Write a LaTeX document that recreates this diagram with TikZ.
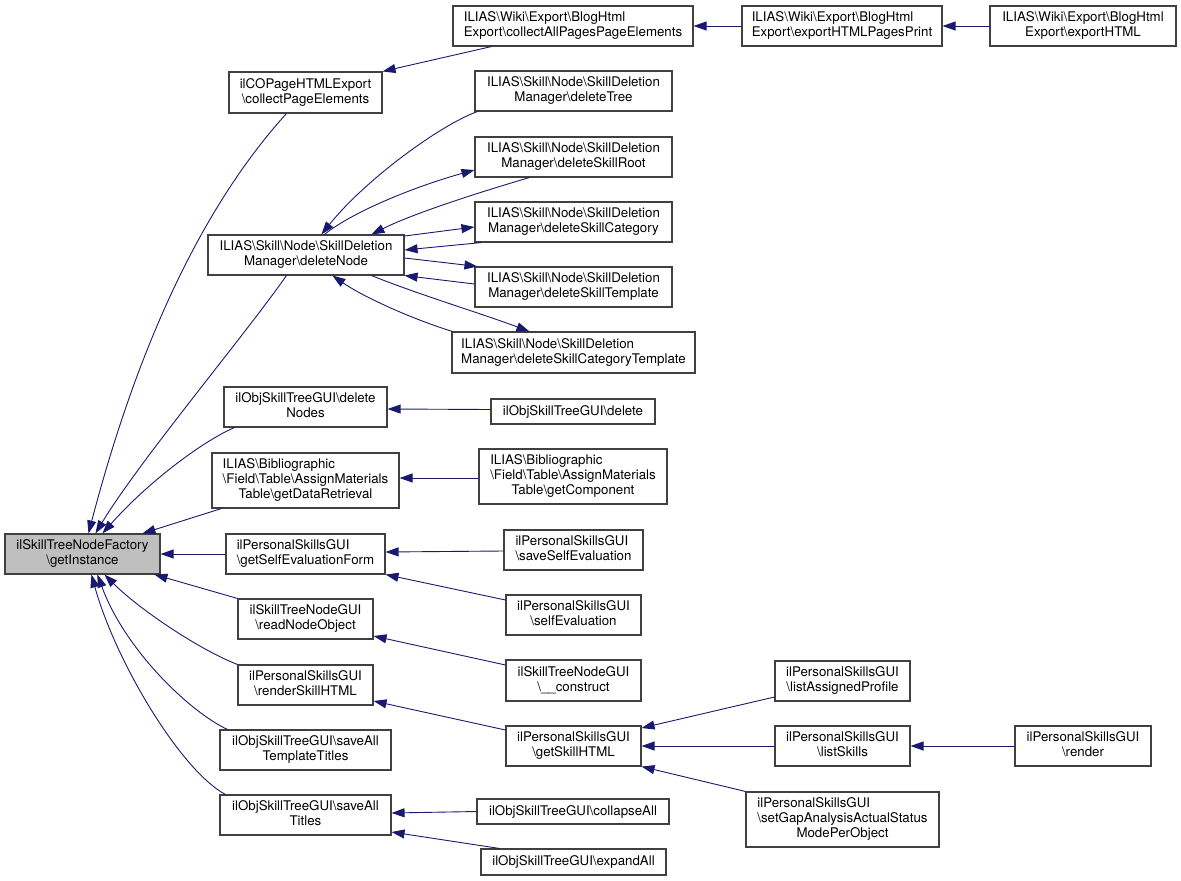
\documentclass[tikz,border=0pt]{standalone}
\usepackage{fontspec}
\setmainfont{TeX Gyre Heros}
\usetikzlibrary{arrows.meta}
\definecolor{navy}{RGB}{25,25,112}
\definecolor{boxline}{RGB}{64,64,64}
\definecolor{rootfill}{RGB}{191,191,191}
\newcommand{\bs}{\textbackslash}
\newcommand{\lineii}[2]{\begin{tabular}{@{}l@{}}#1\\\multicolumn{1}{@{}c@{}}{#2}\end{tabular}}
\newcommand{\lineiii}[3]{\begin{tabular}{@{}l@{}}#1\\#2\\\multicolumn{1}{@{}c@{}}{#3}\end{tabular}}
\tikzset{
  box/.style={draw=boxline, line width=1.1pt, fill=white, inner sep=0pt, minimum height=40pt,
    font=\fontsize{13.3}{15}\selectfont},
  rootbox/.style={box, fill=rootfill},
  edge/.style={draw=navy, line width=0.9pt, -{Triangle[length=13pt,width=9pt]}},
}
\begin{document}
\begin{tikzpicture}[x=1pt,y=-1pt]
\useasboundingbox (0,0) rectangle (1181,881);
% column 1
\node[rootbox, minimum width=155pt] (root) at (82.5,554) {\lineii{ilSkillTreeNodeFactory}{\bs{}getInstance}};
% column 2
\node[box, minimum width=153pt, minimum height=41pt] (cpe) at (305.5,92.5) {\lineii{ilCOPageHTMLExport}{\bs{}collectPageElements}};
\node[box, minimum width=196pt] (dn) at (306,255) {\lineii{ILIAS\bs{}Skill\bs{}Node\bs{}SkillDeletion}{Manager\bs{}deleteNode}};
\node[box, minimum width=163pt] (dnodes) at (305.5,407) {\lineii{ilObjSkillTreeGUI\bs{}delete}{Nodes}};
\node[box, minimum width=187pt, minimum height=55pt] (gdr) at (305.5,480.5) {\lineiii{ILIAS\bs{}Bibliographic}{\bs{}Field\bs{}Table\bs{}AssignMaterials}{Table\bs{}getDataRetrieval}};
\node[box, minimum width=159pt] (gsef) at (305.5,554) {\lineii{ilPersonalSkillsGUI}{\bs{}getSelfEvaluationForm}};
\node[box, minimum width=135pt] (rno) at (305.5,619) {\lineii{ilSkillTreeNodeGUI}{\bs{}readNodeObject}};
\node[box, minimum width=135pt] (rsh) at (305.5,685) {\lineii{ilPersonalSkillsGUI}{\bs{}renderSkillHTML}};
\node[box, minimum width=171pt] (satt) at (305.5,750) {\lineii{ilObjSkillTreeGUI\bs{}saveAll}{TemplateTitles}};
\node[box, minimum width=171pt] (sat) at (305.5,815) {\lineii{ilObjSkillTreeGUI\bs{}saveAll}{Titles}};
% column 3
\node[box, minimum width=240pt] (capp) at (573,26) {\lineii{ILIAS\bs{}Wiki\bs{}Export\bs{}BlogHtml}{Export\bs{}collectAllPagesPageElements}};
\node[box, minimum width=197pt] (dt) at (573.5,91) {\lineii{ILIAS\bs{}Skill\bs{}Node\bs{}SkillDeletion}{Manager\bs{}deleteTree}};
\node[box, minimum width=197pt] (dsr) at (573.5,157) {\lineii{ILIAS\bs{}Skill\bs{}Node\bs{}SkillDeletion}{Manager\bs{}deleteSkillRoot}};
\node[box, minimum width=197pt] (dsc) at (573.5,222) {\lineii{ILIAS\bs{}Skill\bs{}Node\bs{}SkillDeletion}{Manager\bs{}deleteSkillCategory}};
\node[box, minimum width=197pt] (dst) at (573.5,287) {\lineii{ILIAS\bs{}Skill\bs{}Node\bs{}SkillDeletion}{Manager\bs{}deleteSkillTemplate}};
\node[box, minimum width=243pt, minimum height=41pt] (dsct) at (573.5,352.5) {\lineii{ILIAS\bs{}Skill\bs{}Node\bs{}SkillDeletion}{Manager\bs{}deleteSkillCategoryTemplate}};
\node[box, minimum width=164pt, minimum height=25pt] (del) at (573,411.5) {ilObjSkillTreeGUI\bs{}delete};
\node[box, minimum width=188pt, minimum height=55pt] (gc) at (573,476.5) {\lineiii{ILIAS\bs{}Bibliographic}{\bs{}Field\bs{}Table\bs{}AssignMaterials}{Table\bs{}getComponent}};
\node[box, minimum width=139pt] (sse) at (573.5,550) {\lineii{ilPersonalSkillsGUI}{\bs{}saveSelfEvaluation}};
\node[box, minimum width=135pt] (se) at (573.5,615) {\lineii{ilPersonalSkillsGUI}{\bs{}selfEvaluation}};
\node[box, minimum width=135pt, minimum height=41pt] (con) at (573.5,680.5) {\lineii{ilSkillTreeNodeGUI}{\bs{}\_\_construct}};
\node[box, minimum width=135pt] (gsh) at (573.5,746) {\lineii{ilPersonalSkillsGUI}{\bs{}getSkillHTML}};
\node[box, minimum width=192pt, minimum height=25pt] (ca) at (573,811.5) {ilObjSkillTreeGUI\bs{}collapseAll};
\node[box, minimum width=185pt, minimum height=26pt] (ea) at (573.5,862) {ilObjSkillTreeGUI\bs{}expandAll};
% column 4
\node[box, minimum width=200pt] (ehpp) at (842,26) {\lineii{ILIAS\bs{}Wiki\bs{}Export\bs{}BlogHtml}{Export\bs{}exportHTMLPagesPrint}};
\node[box, minimum width=135pt] (lap) at (842.5,681) {\lineii{ilPersonalSkillsGUI}{\bs{}listAssignedProfile}};
\node[box, minimum width=135pt] (ls) at (842.5,746) {\lineii{ilPersonalSkillsGUI}{\bs{}listSkills}};
\node[box, minimum width=193pt, minimum height=55pt] (gap) at (842.5,819.5) {\lineiii{ilPersonalSkillsGUI}{\bs{}setGapAnalysisActualStatus}{ModePerObject}};
% column 5
\node[box, minimum width=186pt] (eh) at (1083,26) {\lineii{ILIAS\bs{}Wiki\bs{}Export\bs{}BlogHtml}{Export\bs{}exportHTML}};
\node[box, minimum width=136pt] (ren) at (1083,746) {\lineii{ilPersonalSkillsGUI}{\bs{}render}};

% edges into root
\draw[edge] ([xshift=58pt]cpe.south west) .. controls (190,220) and (130,375) .. ([xshift=84pt]root.north west);
\draw[edge] ([xshift=79pt]dn.south west) .. controls (245,335) and (140,460) .. ([xshift=91pt]root.north west);
\draw[edge] ([xshift=11pt]dnodes.south west) .. controls (205,440) and (150,480) .. ([xshift=98pt]root.north west);
\draw[edge] ([xshift=10pt]gdr.south west) -- ([xshift=138pt]root.north west);
\draw[edge] (gsef.west) -- (root.east);
\draw[edge] (rno.north west) -- ([xshift=150pt]root.south west);
\draw[edge] (rsh.north west) .. controls (200,650) and (140,610) .. ([xshift=100pt]root.south west);
\draw[edge] ([xshift=8pt]satt.north west) .. controls (190,712) and (125,650) .. ([xshift=93pt]root.south west);
\draw[edge] ([xshift=6pt]sat.north west) .. controls (180,770) and (115,660) .. ([xshift=87pt]root.south west);
% top chain
\draw[edge] ([xshift=39pt]capp.south west) -- (cpe.north east);
\draw[edge] (ehpp.west) -- (capp.east);
\draw[edge] (eh.west) -- (ehpp.east);
% deletion manager
\draw[edge] ([xshift=3pt]dt.south west) .. controls (440,125) and (365,180) .. ([xshift=114pt]dn.north west);
\draw[edge] ([xshift=117pt]dn.north west) .. controls (355,210) and (420,185) .. ([yshift=-13pt]dsr.west);
\draw[edge] ([xshift=55pt]dsr.south west) .. controls (470,195) and (410,215) .. ([xshift=164pt]dn.north west);
\draw[edge] ([yshift=19pt]dn.east) -- ([yshift=-5pt]dsc.west);
\draw[edge] ([xshift=7pt]dsc.south west) -- ([yshift=5pt]dn.east);
\draw[edge] ([yshift=-3pt]dn.east) -- ([xshift=3pt]dst.north west);
\draw[edge] ([yshift=3pt]dst.west) -- (dn.south east);
\draw[edge] ([xshift=164pt]dn.south west) .. controls (420,295) and (480,313) .. ([xshift=78pt]dsct.north west);
\draw[edge] ([xshift=1pt]dsct.north west) .. controls (415,320) and (365,298) .. ([xshift=125pt]dn.south west);
% others
\draw[edge] ([yshift=2pt]del.west) -- ([yshift=-2pt]dnodes.east);
\draw[edge] ([yshift=-1.5pt]gc.west) -- ([yshift=2.5pt]gdr.east);
\draw[edge] ([yshift=-1pt]sse.west) -- ([yshift=2pt]gsef.east);
\draw[edge] ([yshift=15pt]se.west) -- (gsef.south east);
\draw[edge] ([yshift=15.5pt]con.west) -- ([yshift=-17pt]rno.east);
\draw[edge] ([yshift=16pt]gsh.west) -- ([yshift=-16pt]rsh.east);
\draw[edge] ([yshift=-16pt]lap.west) -- ([yshift=18pt]gsh.east);
\draw[edge] (ls.west) -- (gsh.east);
\draw[edge] (gap.north west) -- (gsh.south east);
\draw[edge] (ren.west) -- (ls.east);
\draw[edge] (ca.west) -- ([yshift=2pt]sat.east);
\draw[edge] ([xshift=19pt]ea.north west) -- ([yshift=-17pt]sat.east);
\end{tikzpicture}
\end{document}
